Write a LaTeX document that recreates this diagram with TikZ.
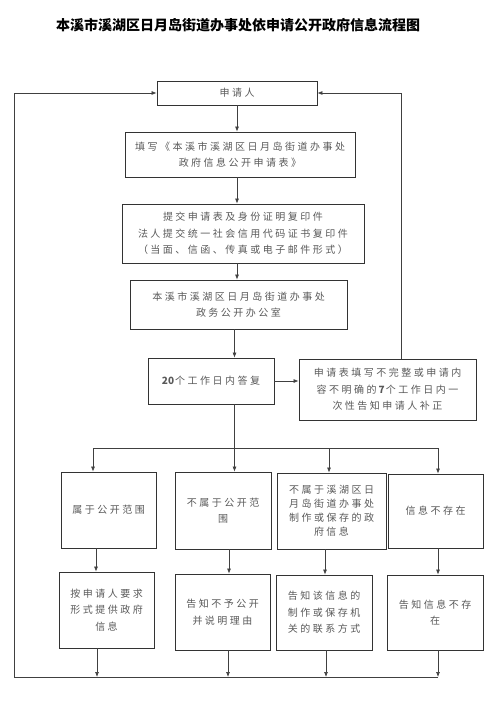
\documentclass[tikz,border=0pt]{standalone}
\usepackage{fontspec}
\newfontfamily\cjk[LetterSpace=25]{Noto Sans CJK SC}
\newfontfamily\cjkhead{Noto Sans CJK SC}
\newcommand\dig[1]{{\cjkhead\bfseries #1}\hspace{1pt}}
\usetikzlibrary{arrows.meta}
\tikzset{
box/.style={draw=black!80,line width=0.8pt,inner sep=0pt,align=center,text=black!65,font=\cjk\fontsize{10}{16.5}\selectfont},
arr/.style={-{Latex[length=5pt,width=4pt]},draw=black!75,line width=0.7pt},
lin/.style={draw=black!75,line width=0.7pt}
}
\begin{document}
\begin{tikzpicture}[x=1pt,y=-1pt]
\useasboundingbox (0,0) rectangle (487,722);
\node[font=\cjkhead\bfseries\fontsize{14}{14}\selectfont] (title) at (238,25) {本溪市溪湖区日月岛街道办事处依申请公开政府信息流程图};
\node[box,minimum width=160pt,minimum height=24pt] (app) at (237,93) {申请人};
\node[box,minimum width=230pt,minimum height=45pt] (fill) at (240,154.5) {填写《本溪市溪湖区日月岛街道办事处\\政府信息公开申请表》};
\node[box,minimum width=242pt,minimum height=59pt] (submit) at (243,233.5) {提交申请表及身份证明复印件\\法人提交统一社会信用代码证书复印件\\（当面、信函、传真或电子邮件形式）};
\node[box,minimum width=217pt,minimum height=49pt] (office) at (238.5,304.5) {本溪市溪湖区日月岛街道办事处\\政务公开办公室};
\node[box,minimum width=126pt,minimum height=46pt] (reply) at (211,381) {\dig{20}个工作日内答复};
\node[box,minimum width=177pt,minimum height=61pt] (notify) at (387.5,389.5) {申请表填写不完整或申请内\\容不明确的\hspace{2pt}\dig{7}个工作日内一\\次性告知申请人补正};
\node[box,minimum width=95pt,minimum height=76pt] (A) at (108.5,510) {属于公开范围};
\node[box,minimum width=96pt,minimum height=77pt] (B) at (223,510.5) {不属于公开范\\围};
\node[box,minimum width=109pt,minimum height=76pt,font=\cjk\fontsize{10}{14}\selectfont] (C) at (331.5,511) {不属于溪湖区日\\月岛街道办事处\\制作或保存的政\\府信息};
\node[box,minimum width=95pt,minimum height=74pt] (D) at (435.5,511) {信息不存在};
\node[box,minimum width=95pt,minimum height=76pt] (A2) at (106.5,610) {按申请人要求\\形式提供政府\\信息};
\node[box,minimum width=95pt,minimum height=76pt] (B2) at (222.5,612) {告知不予公开\\并说明理由};
\node[box,minimum width=96pt,minimum height=75pt] (C2) at (324,612.5) {告知该信息的\\制作或保存机\\关的联系方式};
\node[box,minimum width=96pt,minimum height=75pt] (D2) at (435,612.5) {告知信息不存\\在};
\coordinate (spine) at (234.5,448);
\coordinate (bl) at (93,448);
\coordinate (br) at (438,448);
\coordinate (rr) at (401,93);
\coordinate (lt) at (14,93);
\coordinate (lb) at (14,677);
\coordinate (bb) at (438,677);
\draw[arr] (app.south) -- (app.south |- fill.north);
\draw[arr] (fill.south -| app.south) -- (app.south |- submit.north);
\draw[arr] (submit.south -| app.south) -- (app.south |- office.north);
\draw[arr] (office.south -| spine) -- (reply.north -| spine);
\draw[lin] (reply.south -| spine) -- (spine);
\draw[lin] (bl) -- (br);
\draw[arr] (reply.east) -- (notify.west |- reply.east);
\draw[arr] (notify.north -| rr) -- (rr) -- (app.east);
\foreach \n/\x in {A/93,B/234.5,C/329,D/438}
\draw[arr] (\x,448) -- (\n.north -| \x,0);
\foreach \n/\m/\x in {A/A2/96,B/B2/229,C/C2/325,D/D2/438}
\draw[arr] (\n.south -| \x,0) -- (\m.north -| \x,0);
\foreach \n/\x in {A2/97,B2/228,C2/326,D2/438}
\draw[arr] (\n.south -| \x,0) -- (\x,677);
\draw[arr] (bb) -- (lb) -- (lt) -- (app.west);
\end{tikzpicture}
\end{document}
